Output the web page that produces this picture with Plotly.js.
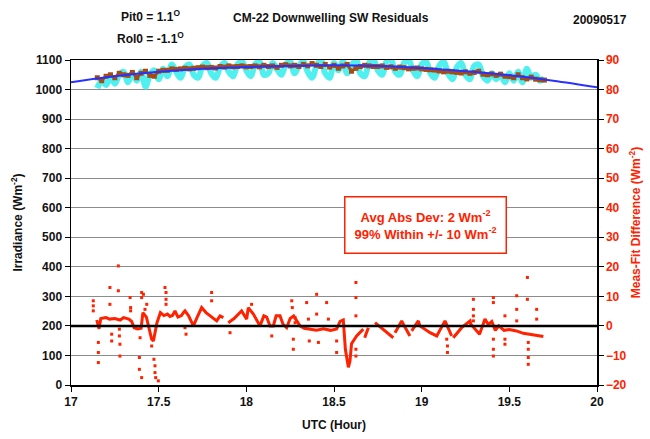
<!DOCTYPE html>
<html>
<head>
<meta charset="utf-8">
<script src="https://cdn.plot.ly/plotly-3.0.1.min.js"></script>
<style>html,body{margin:0;padding:0;background:#fff;}#chart{width:650px;height:439px;}</style>
</head>
<body>
<div id="chart"></div>
<script>
// ---- Data ----
// Model (cyan) irradiance, W m-2
const modelX = [17.150,17.175,17.200,17.225,17.250,17.275,17.300,17.325,17.350,17.375,17.400,17.425,17.450,17.475,17.500,17.525,17.550,17.575,17.600,17.625,17.650,17.675,17.700,17.725,17.750,17.775,17.800,17.825,17.850,17.875,17.900,17.925,17.950,17.975,18.000,18.025,18.050,18.075,18.100,18.125,18.150,18.175,18.200,18.225,18.250,18.275,18.300,18.325,18.350,18.375,18.400,18.425,18.450,18.475,18.500,18.525,18.550,18.575,18.600,18.625,18.650,18.675,18.700,18.725,18.750,18.775,18.800,18.825,18.850,18.875,18.900,18.925,18.950,18.975,19.000,19.025,19.050,19.075,19.100,19.125,19.150,19.175,19.200,19.225,19.250,19.275,19.300,19.325,19.350,19.375,19.400,19.425,19.450,19.475,19.500,19.525,19.550,19.575,19.600,19.625,19.650,19.675,19.700];
const modelY = [1005,1030,1015,1045,1020,1050,1060,1025,1055,1030,1060,1010,1050,1065,1035,1070,1045,1085,1060,1040,1075,1085,1050,1040,1080,1090,1055,1040,1075,1090,1060,1045,1085,1095,1065,1045,1085,1095,1050,1055,1090,1070,1050,1085,1095,1055,1080,1095,1060,1040,1080,1100,1055,1040,1090,1065,1095,1055,1080,1100,1055,1045,1090,1100,1065,1050,1095,1100,1060,1050,1090,1100,1065,1045,1085,1095,1055,1040,1080,1095,1055,1035,1075,1090,1050,1035,1080,1085,1045,1030,1055,1035,1050,1025,1055,1030,1060,1025,1070,1040,1050,1030,1040];

// Measured (brown) irradiance, W m-2
const measX = modelX;
const measY = [1040,1030,1045,1050,1040,1055,1050,1048,1058,1040,1055,1062,1048,1045,1062,1065,1065,1070,1068,1070,1072,1070,1072,1074,1076,1074,1075,1073,1078,1076,1080,1077,1078,1080,1077,1078,1080,1077,1082,1078,1080,1075,1082,1084,1080,1082,1078,1085,1080,1088,1082,1078,1085,1076,1082,1072,1080,1085,1062,1072,1078,1082,1080,1078,1078,1080,1075,1077,1072,1076,1074,1070,1072,1073,1070,1068,1067,1066,1063,1060,1062,1060,1058,1056,1060,1055,1058,1062,1052,1050,1053,1048,1052,1045,1044,1040,1050,1040,1036,1042,1035,1033,1032];

// Fit (blue) irradiance, W m-2
const fitX = [17.00,17.25,17.50,17.75,18.00,18.25,18.50,18.75,19.00,19.25,19.50,19.75,20.00];
const fitY = [1025,1045,1060,1070,1076,1080,1082,1080,1073,1062,1048,1030,1008];

// Residual (meas - fit) main trace, W m-2 (null = gap)
const resX = [17.147,17.16,17.17,17.20,17.22,17.25,17.28,17.30,17.33,17.346,17.36,17.38,17.40,17.41,17.43,17.44,17.45,17.46,17.47,17.48,17.49,17.51,17.53,17.55,17.565,17.58,17.593,17.61,17.63,17.641,17.65,17.67,17.698,17.72,17.745,17.77,17.80,17.831,17.85,17.869,17.88,17.897,17.93,17.973,18.002,18.011,18.04,18.078,18.10,18.116,18.135,18.154,18.17,18.192,18.21,18.23,18.25,18.27,18.306,18.33,18.36,18.40,18.44,18.48,18.515,18.535,18.553,18.565,18.582,18.591,18.60,18.629,18.667,18.671,18.675,18.696,18.715,18.734,18.78,18.838,18.843,18.848,18.886,18.91,18.933,18.938,18.943,18.981,18.99,19.02,19.048,19.086,19.133,19.171,19.175,19.180,19.228,19.276,19.28,19.323,19.33,19.361,19.38,19.40,19.42,19.44,19.47,19.50,19.54,19.58,19.62,19.66,19.694];
const resY = [2.0,-1.0,2.5,2.8,2.3,2.5,2.0,2.8,2.3,1.5,-0.6,-1.0,-0.8,4.5,3.0,0.5,-2.0,-4.5,-5.1,-2.0,1.0,4.5,3.5,4.0,3.2,3.6,5.1,3.0,3.5,4.5,5.1,3.5,0.0,3.0,6.2,4.5,3.0,1.7,3.4,2.8,null,1.1,2.5,5.1,2.3,6.2,4.0,0.0,3.4,3.0,0.0,0.0,3.4,3.4,0.5,-0.6,2.5,3.4,0.0,-0.8,-1.2,-1.5,-1.0,-1.5,-1.0,1.5,2.0,-8.0,-14.0,-12.0,-6.0,-3.4,-1.1,null,-4.0,-0.6,null,1.1,-1.2,-4.0,null,-2.3,1.7,-1.0,-3.4,null,-1.7,1.7,0.0,-1.2,-2.3,-3.4,1.7,-3.4,null,-4.0,-0.6,1.7,0.6,-2.3,-2.8,2.3,0.5,1.5,-1.5,0.0,-1.5,-1.2,-1.7,-2.5,-2.8,-3.2,-3.6];

// Residual scattered points, W m-2
const dotX = [17.127,17.127,17.127,17.156,17.156,17.156,17.222,17.222,17.232,17.232,17.270,17.270,17.276,17.276,17.279,17.279,17.337,17.340,17.340,17.403,17.403,17.394,17.390,17.390,17.403,17.413,17.422,17.432,17.460,17.473,17.479,17.479,17.483,17.498,17.536,17.542,17.542,17.542,17.650,17.656,17.802,17.802,17.907,18.030,18.145,18.259,18.262,18.268,18.268,18.278,18.278,18.344,18.354,18.359,18.401,18.401,18.411,18.458,18.468,18.515,18.515,18.625,18.625,18.625,18.625,18.625,19.143,19.147,19.147,19.295,19.295,19.295,19.295,19.409,19.409,19.409,19.409,19.409,19.475,19.475,19.475,19.542,19.542,19.542,19.603,19.603,19.608,19.608,19.608,19.608,19.656,19.656];
const dotY = [8.5,6.8,5.1,-5.6,-9.0,-12.4,13.0,7.3,-2.8,-5.1,20.3,11.9,-1.1,-3.4,-6.2,-10.2,9.6,6.2,5.1,11.3,9.6,-4.0,-10.7,-14.7,-17.5,10.7,5.6,7.3,-6.8,-11.3,-13.5,-15.8,-17.5,-18.6,13.0,11.3,9.0,7.3,-0.6,-2.8,11.3,8.5,-2.3,7.3,-3.4,8.5,6.2,-4.5,-7.9,2.8,1.1,7.9,2.3,-5.1,10.7,4.0,-5.6,7.9,2.3,-5.1,-9.0,14.7,9.6,3.4,-7.9,-10.2,-4.5,-6.8,-9.0,9.0,5.6,3.4,1.7,9.6,7.9,-4.5,-7.9,-10.2,3.4,-4.5,-6.2,10.2,5.6,1.7,16.4,9.0,-5.6,-7.9,-10.7,-13.0,5.6,2.3];

const xTicks = [17,17.5,18,18.5,19,19.5,20];
const xTickText = ['17','17.5','18','18.5','19','19.5','20'];

// ---- Styles ----
const RED = 'rgb(255,34,0)';
const FONT = 'Liberation Sans, Arial, sans-serif';

const traces = [
  {x: modelX, y: modelY, type:'scatter', mode:'lines', line:{color:'rgb(80,240,240)', width:6, shape:'spline'}, yaxis:'y', hoverinfo:'skip'},
  {x: measX, y: measY, type:'scatter', mode:'lines+markers', line:{color:'rgb(165,75,20)', width:3}, marker:{symbol:'square', size:5, color:'rgb(165,75,20)'}, yaxis:'y', hoverinfo:'skip'},
  {x: fitX, y: fitY, type:'scatter', mode:'lines', line:{color:'rgb(40,50,255)', width:2, shape:'spline'}, yaxis:'y', hoverinfo:'skip'},
  {x: resX, y: resY, type:'scatter', mode:'lines', line:{color:RED, width:3}, connectgaps:false, yaxis:'y2', hoverinfo:'skip'},
  {x: dotX, y: dotY, type:'scatter', mode:'markers', marker:{symbol:'square', size:3, color:RED}, yaxis:'y2', hoverinfo:'skip'}
];

const layout = {
  width:650, height:439,
  margin:{l:71, r:53, t:60, b:54},
  paper_bgcolor:'#fff', plot_bgcolor:'#fff',
  showlegend:false,
  font:{family:FONT, size:12, color:'#111'},
  xaxis:{
    range:[17,20], tickvals:xTicks, ticktext:xTickText,
    showline:true, linecolor:'#000', linewidth:1.5, mirror:true,
    ticks:'outside', ticklen:5, tickcolor:'#000', showgrid:false, zeroline:false,
    tickfont:{family:FONT, size:12, color:'#111', weight:'bold'},
    title:{text:'UTC (Hour)', font:{family:FONT, size:12, color:'#111', weight:'bold'}, standoff:12}
  },
  yaxis:{
    range:[0,1100], dtick:100, tick0:0,
    showline:true, linecolor:'#000', linewidth:1.5, mirror:true,
    ticks:'outside', ticklen:5, tickcolor:'#000',
    showgrid:true, gridcolor:'#8c8c8c', gridwidth:1, zeroline:false,
    tickfont:{family:FONT, size:12, color:'#111', weight:'bold'},
    title:{text:'Irradiance (Wm<sup>-2</sup>)', font:{family:FONT, size:12, color:'#111', weight:'bold'}, standoff:10}
  },
  yaxis2:{
    range:[-20,90], dtick:10, tick0:0, overlaying:'y', side:'right',
    showline:true, linecolor:'#000', linewidth:1.5,
    ticks:'outside', ticklen:5, tickcolor:'#000', showgrid:false, zeroline:false,
    tickfont:{family:FONT, size:12, color:RED, weight:'bold'},
    title:{text:'Meas-Fit Difference (Wm<sup>-2</sup>)', font:{family:FONT, size:12, color:RED, weight:'bold'}, standoff:6}
  },
  shapes:[
    {type:'line', xref:'paper', x0:0, x1:1, yref:'y2', y0:0, y1:0, line:{color:'#000', width:2.5}, layer:'above'}
  ],
  annotations:[
    {xref:'paper', yref:'paper', x:0.495, y:1.0, xanchor:'center', yanchor:'bottom', yshift:33, showarrow:false,
     text:'CM-22 Downwelling SW Residuals', font:{family:FONT, size:12, color:'#111', weight:'bold'}},
    {xref:'paper', yref:'paper', x:0.152, y:1.0, xanchor:'center', yanchor:'bottom', yshift:34, showarrow:false,
     text:'Pit0 = 1.1<sup>O</sup>', font:{family:FONT, size:12, color:'#111', weight:'bold'}},
    {xref:'paper', yref:'paper', x:0.152, y:1.0, xanchor:'center', yanchor:'bottom', yshift:12, showarrow:false,
     text:'Rol0 = -1.1<sup>O</sup>', font:{family:FONT, size:12, color:'#111', weight:'bold'}},
    {xref:'paper', yref:'paper', x:1.06, y:1.0, xanchor:'right', yanchor:'bottom', yshift:31, showarrow:false,
     text:'20090517', font:{family:FONT, size:12, color:'#111', weight:'bold'}},
    {xref:'x', yref:'y', x:19.02, y:540, xanchor:'center', yanchor:'middle', showarrow:false,
     text:'Avg Abs Dev: 2 Wm<sup>-2</sup><br>99% Within +/- 10 Wm<sup>-2</sup>',
     align:'center', width:160, height:55, bgcolor:'#fff', bordercolor:RED, borderwidth:1.5, borderpad:0,
     font:{family:FONT, size:13, color:RED, weight:'bold'}}
  ]
};

Plotly.newPlot('chart', traces, layout, {staticPlot:true, displayModeBar:false});
</script>
</body>
</html>
